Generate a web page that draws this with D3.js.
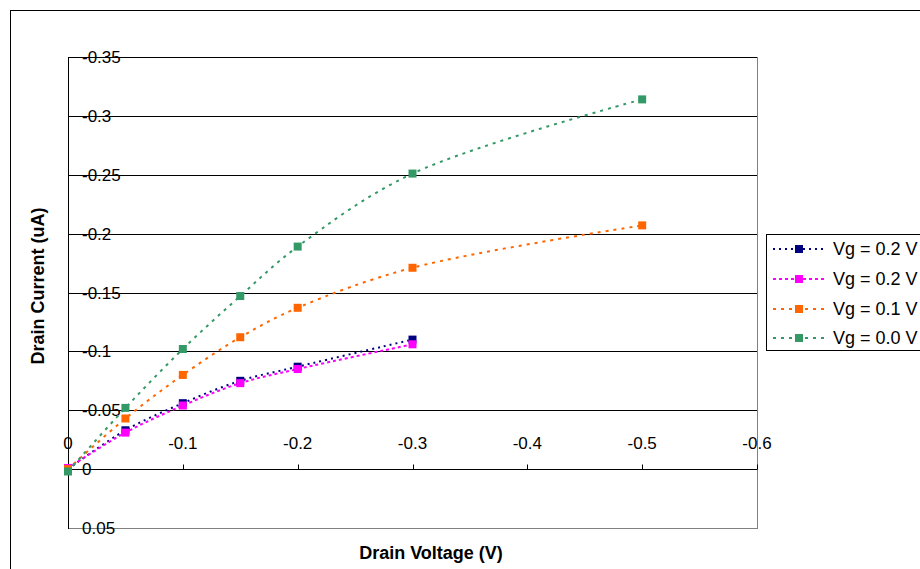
<!DOCTYPE html>
<html>
<head>
<meta charset="utf-8">
<script src="https://cdn.jsdelivr.net/npm/d3@7"></script>
<style>
  html, body { margin: 0; padding: 0; background: #fff; }
  svg { display: block; font-family: "Liberation Sans", Arial, sans-serif; }
</style>
</head>
<body>
<svg id="chart" width="920" height="569"></svg>
<script>
// ---- data ----
const drainVoltage = [0, -0.05, -0.1, -0.15, -0.2, -0.3, -0.5];
const seriesNames = ["Vg = 0.2 V", "Vg = 0.2 V", "Vg = 0.1 V", "Vg = 0.0 V"];
const currentVg02a = [0, -0.033, -0.056, -0.075, -0.087, -0.110];
const currentVg02b = [-0.001, -0.031, -0.054, -0.073, -0.085, -0.106];
const currentVg01 = [0, -0.043, -0.080, -0.112, -0.137, -0.171, -0.207];
const currentVg00 = [0.002, -0.052, -0.102, -0.147, -0.189, -0.251, -0.314];
const xTicks = [0, -0.1, -0.2, -0.3, -0.4, -0.5, -0.6];
const xTickLabels = ["0", "-0.1", "-0.2", "-0.3", "-0.4", "-0.5", "-0.6"];
const yTicks = [-0.35, -0.3, -0.25, -0.2, -0.15, -0.1, -0.05, 0, 0.05];
const yTickLabels = ["-0.35", "-0.3", "-0.25", "-0.2", "-0.15", "-0.1", "-0.05", "0", "0.05"];

// ---- styles ----
const colors = ["#000080", "#FF00FF", "#FF6600", "#339966"];
const dashes = ["2,4", "3,3", "3,5", "3,5"];
const seriesValues = [currentVg02a, currentVg02b, currentVg01, currentVg00];

const svg = d3.select("#chart");
const plot = { left: 68, top: 57, right: 757, bottom: 528 };

const x = d3.scaleLinear().domain([0, -0.6]).range([plot.left, plot.right]);
const y = d3.scaleLinear().domain([-0.35, 0.05]).range([plot.top, plot.bottom]);

// outer chart border
svg.append("rect").attr("x", 10.5).attr("y", 10.5).attr("width", 1000).attr("height", 1000)
  .attr("fill", "#fff").attr("stroke", "#000").attr("stroke-width", 1);

// plot-area border (grey)
svg.append("rect")
  .attr("x", plot.left + 0.5).attr("y", plot.top + 0.5)
  .attr("width", plot.right - plot.left).attr("height", plot.bottom - plot.top)
  .attr("fill", "none").attr("stroke", "#808080").attr("stroke-width", 1);

// horizontal gridlines
svg.append("g").selectAll("line").data(yTicks.slice(0, -1)).join("line")
  .attr("x1", plot.left).attr("x2", plot.right)
  .attr("y1", d => Math.round(y(d)) + 0.5).attr("y2", d => Math.round(y(d)) + 0.5)
  .attr("stroke", "#000").attr("stroke-width", 1);

// y axis line
svg.append("line").attr("x1", plot.left + 0.5).attr("x2", plot.left + 0.5)
  .attr("y1", plot.top).attr("y2", plot.bottom + 1).attr("stroke", "#000");

// x axis (at y=0) with upward ticks
const y0 = Math.round(y(0)) + 0.5;
svg.append("line").attr("x1", plot.left).attr("x2", plot.right)
  .attr("y1", y0).attr("y2", y0).attr("stroke", "#000").attr("stroke-width", 1.2);
svg.append("g").selectAll("line").data(xTicks).join("line")
  .attr("x1", d => Math.round(x(d)) + 0.5).attr("x2", d => Math.round(x(d)) + 0.5)
  .attr("y1", y0 - 5).attr("y2", y0).attr("stroke", "#000");

// x tick labels (above axis)
svg.append("g").selectAll("text").data(xTicks).join("text")
  .attr("x", d => x(d)).attr("y", y0 - 21)
  .attr("text-anchor", "middle").attr("font-size", 17).attr("fill", "#000")
  .text((d, i) => xTickLabels[i]);

// y tick labels (start-anchored just right of the axis)
svg.append("g").selectAll("text").data(yTicks).join("text")
  .attr("x", plot.left + 14).attr("y", d => y(d)).attr("dy", "0.36em")
  .attr("text-anchor", "start").attr("font-size", 17).attr("fill", "#000")
  .text((d, i) => yTickLabels[i]);

// series lines + markers
const line = d3.line().x(d => x(d[0])).y(d => y(d[1])).curve(d3.curveCatmullRom.alpha(0.5));
seriesValues.forEach((vals, i) => {
  const pts = vals.map((v, j) => [drainVoltage[j], v]);
  svg.append("path").datum(pts).attr("d", line)
    .attr("fill", "none").attr("stroke", colors[i]).attr("stroke-width", 2)
    .attr("stroke-dasharray", dashes[i]);
});
seriesValues.forEach((vals, i) => {
  const pts = vals.map((v, j) => [drainVoltage[j], v]);
  svg.append("g").selectAll("rect").data(pts).join("rect")
    .attr("x", d => x(d[0]) - 4).attr("y", d => y(d[1]) - 4)
    .attr("width", 8).attr("height", 8).attr("fill", colors[i]);
});

// axis titles
svg.append("text").attr("x", 431).attr("y", 559).attr("text-anchor", "middle")
  .attr("font-size", 18).attr("font-weight", "bold").text("Drain Voltage (V)");
svg.append("text").attr("transform", "translate(44,286) rotate(-90)").attr("text-anchor", "middle")
  .attr("font-size", 18).attr("font-weight", "bold").text("Drain Current (uA)");

// legend
const legend = svg.append("g");
legend.append("rect").attr("x", 766.5).attr("y", 234.5).attr("width", 200).attr("height", 116)
  .attr("fill", "#fff").attr("stroke", "#000").attr("stroke-width", 1);
const rowY = [249, 279, 309, 338];
seriesNames.forEach((name, i) => {
  legend.append("line").attr("x1", 773).attr("x2", 826).attr("y1", rowY[i]).attr("y2", rowY[i])
    .attr("stroke", colors[i]).attr("stroke-width", 2).attr("stroke-dasharray", dashes[i]);
  legend.append("rect").attr("x", 795).attr("y", rowY[i] - 4).attr("width", 8).attr("height", 8)
    .attr("fill", colors[i]);
  legend.append("text").attr("x", 833).attr("y", rowY[i]).attr("dy", "0.36em")
    .attr("font-size", 18).attr("fill", "#000").text(name);
});
</script>
</body>
</html>
